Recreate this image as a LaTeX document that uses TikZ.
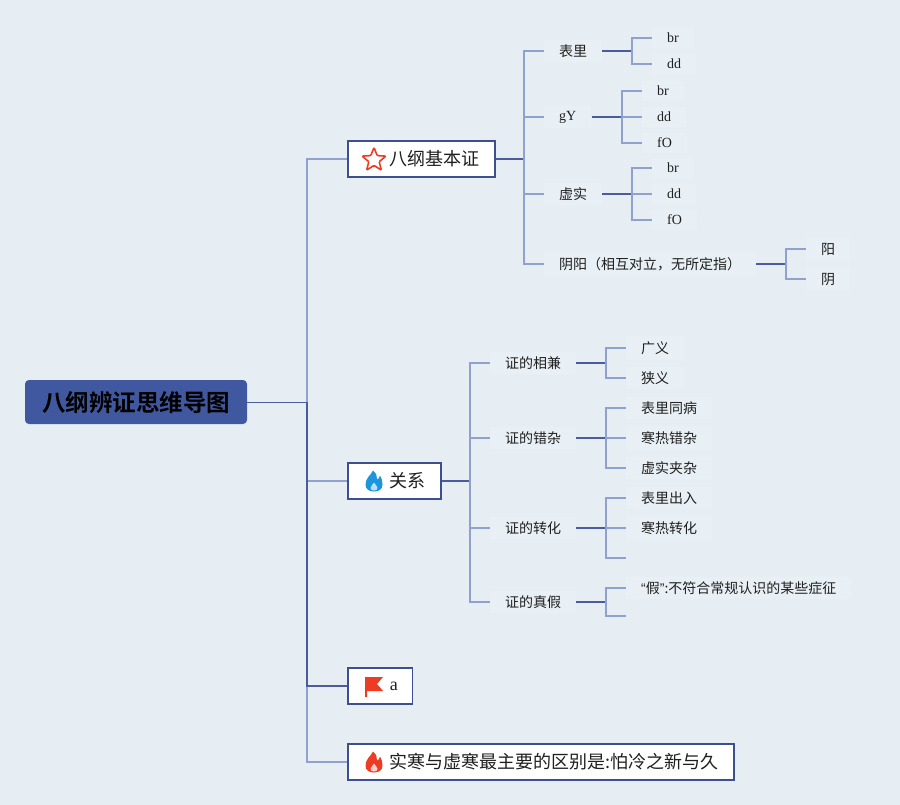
\documentclass[tikz,border=0pt]{standalone}
\usepackage{fontspec}
\setmainfont{Liberation Serif}
\newfontfamily\cjk[BoldFont={Noto Sans CJK SC Bold}]{Noto Sans CJK SC}
\newfontfamily\lsans{Liberation Sans}
\usepackage{tikz}
\usetikzlibrary{shapes.geometric}

\definecolor{bgcol}{HTML}{E6EEF4}
\definecolor{tagcol}{HTML}{E9F0F5}
\definecolor{darkln}{HTML}{4A5C9E}
\definecolor{lightln}{HTML}{8FA1CD}
\definecolor{boxln}{HTML}{3E4F8E}
\definecolor{rootcol}{HTML}{3F58A0}
\definecolor{iconred}{HTML}{EE3B24}
\definecolor{iconblue}{HTML}{1D95DB}

\newcommand{\flamepath}{(-1,10.5) .. controls (-3,6) and (-8.5,3) .. (-8.5,-3.5) .. controls (-8.5,-8.5) and (-4.5,-10.5) .. (0,-10.5) .. controls (4.5,-10.5) and (8.5,-8.5) .. (8.5,-3.5) .. controls (8.5,0) and (7.5,3) .. (6,5.5) .. controls (5.5,3) and (4.5,2) .. (3,1.5) .. controls (3.5,5) and (2,8) .. (-1,10.5) -- cycle}
\newcommand{\flamecore}{(0,-1.5) .. controls (-1,-3.5) and (-3.5,-5) .. (-3.5,-7) .. controls (-3.5,-8.8) and (-2,-9.5) .. (0,-9.5) .. controls (2,-9.5) and (3.5,-8.8) .. (3.5,-7) .. controls (3.5,-5) and (1,-3.5) .. (0,-1.5) -- cycle}

\begin{document}
\begin{tikzpicture}
        [x=1pt,y=-1pt,every node/.style={font=\cjk,text=black!88},
        topic/.style={draw=boxln,fill=white,line width=1.5pt,minimum height=36pt,inner xsep=15pt,anchor=west,font=\cjk\fontsize{18}{20}\selectfont},
        leaf/.style={fill=tagcol,inner xsep=15pt,inner ysep=5pt,anchor=west,font=\cjk\fontsize{14}{16}\selectfont},
        lat/.style={font=\rmfamily\fontsize{14}{16}\selectfont},
        dk/.style={draw=darkln,line width=1.6pt},
        lt/.style={draw=lightln,line width=1.4pt}]
        \useasboundingbox (0,0) rectangle (900,805);
        \fill[bgcol] (0,0) rectangle (900,805);

        % root and main branches
        \node[fill=rootcol,rounded corners=4pt,minimum width=222pt,minimum height=44pt,text=black,font=\cjk\bfseries\fontsize{23.5}{26}\selectfont] (root) at (136,402) {八纲辨证思维导图};
        \node[topic] (jb) at (347,159) {\hspace*{27pt}八纲基本证};
        \node[topic] (gx) at (347,481) {\hspace*{27pt}关系};
        \node[topic] (fa) at (347,686) {\hspace*{27pt}{\rmfamily a}};
        \node[topic] (sh) at (347,762) {\hspace*{27pt}实寒与虚寒最主要的区别是:怕冷之新与久};
        \coordinate (tr) at (307,402);

        \draw[dk,line width=1pt] (root.east) -- (tr);
        \draw[lt] (tr) |- (sh.west);
        \draw[lt] (tr) |- (jb.west);
        \draw[lt] (tr) |- (gx.west);
        \draw[dk] (tr) |- (fa.west);

        % icons
        \node[star,star points=5,star point ratio=2.3,draw=iconred,line width=1.6pt,minimum size=25pt,inner sep=0pt,rounded corners=1pt] (jbicon) at (374,160) {};
        \begin{scope}[shift={(374,481)},yscale=-1]
            \fill[iconblue] \flamepath;
            \fill[white!70!iconblue] \flamecore;
        \end{scope}
        \begin{scope}[shift={(374,762)},yscale=-1]
            \fill[iconred] \flamepath;
            \fill[white!75!iconred] \flamecore;
        \end{scope}
        \fill[iconred] (365,697) -- (365,677) -- (383,677) -- (377,684) -- (383,691) -- (367,691) -- (367,697) -- cycle;

        % 八纲基本证
        \coordinate (j1) at (524,159);
        \node[leaf] (bl) at (544,51) {表里};
        \node[leaf,lat] (gy) at (544,117) {gY};
        \node[leaf] (xs) at (544,194) {虚实};
        \node[leaf] (yy) at (544,264) {阴阳（相互对立，无所定指）};
        \draw[dk] (jb.east) -- (j1);
        \foreach \n in {bl,gy,xs,yy} \draw[lt] (j1) |- (\n.west);

        \coordinate (jbl) at (632,51);
        \node[leaf,lat] (bl1) at (652,38) {br};
        \node[leaf,lat] (bl2) at (652,64) {dd};
        \draw[dk] (bl.east) -- (jbl);
        \foreach \n in {bl1,bl2} \draw[lt] (jbl) |- (\n.west);

        \coordinate (jgy) at (622,117);
        \node[leaf,lat] (gy1) at (642,91) {br};
        \node[leaf,lat] (gy2) at (642,117) {dd};
        \node[leaf,lat] (gy3) at (642,143) {fO};
        \draw[dk] (gy.east) -- (jgy);
        \foreach \n in {gy1,gy2,gy3} \draw[lt] (jgy) |- (\n.west);

        \coordinate (jxs) at (632,194);
        \node[leaf,lat] (xs1) at (652,168) {br};
        \node[leaf,lat] (xs2) at (652,194) {dd};
        \node[leaf,lat] (xs3) at (652,220) {fO};
        \draw[dk] (xs.east) -- (jxs);
        \foreach \n in {xs1,xs2,xs3} \draw[lt] (jxs) |- (\n.west);

        \coordinate (jyy) at (786,264);
        \node[leaf] (yy1) at (806,249) {阳};
        \node[leaf] (yy2) at (806,279) {阴};
        \draw[dk] (yy.east) -- (jyy);
        \foreach \n in {yy1,yy2} \draw[lt] (jyy) |- (\n.west);

        % 关系
        \coordinate (j2) at (470,481);
        \node[leaf] (xj) at (490,363) {证的相兼};
        \node[leaf] (cz) at (490,438) {证的错杂};
        \node[leaf] (zh) at (490,528) {证的转化};
        \node[leaf] (zj) at (490,602) {证的真假};
        \draw[dk] (gx.east) -- (j2);
        \foreach \n in {xj,cz,zh,zj} \draw[lt] (j2) |- (\n.west);

        \coordinate (jxj) at (606,363);
        \node[leaf] (xj1) at (626,348) {广义};
        \node[leaf] (xj2) at (626,378) {狭义};
        \draw[dk] (xj.east) -- (jxj);
        \foreach \n in {xj1,xj2} \draw[lt] (jxj) |- (\n.west);

        \coordinate (jcz) at (606,438);
        \node[leaf] (cz1) at (626,408) {表里同病};
        \node[leaf] (cz2) at (626,438) {寒热错杂};
        \node[leaf] (cz3) at (626,468) {虚实夹杂};
        \draw[dk] (cz.east) -- (jcz);
        \foreach \n in {cz1,cz2,cz3} \draw[lt] (jcz) |- (\n.west);

        \coordinate (jzh) at (606,528);
        \node[leaf] (zh1) at (626,498) {表里出入};
        \node[leaf] (zh2) at (626,528) {寒热转化};
        \coordinate (zh3) at (626,558);
        \draw[dk] (zh.east) -- (jzh);
        \foreach \n in {zh1.west,zh2.west,zh3} \draw[lt] (jzh) |- (\n);

        \coordinate (jzj) at (606,602);
        \node[leaf] (zj1) at (626,588) {{\lsans “}假{\lsans ”}:不符合常规认识的某些症征};
        \coordinate (zj2) at (626,616);
        \draw[dk] (zj.east) -- (jzj);
        \foreach \n in {zj1.west,zj2} \draw[lt] (jzj) |- (\n);

    \end{tikzpicture}
\end{document}
